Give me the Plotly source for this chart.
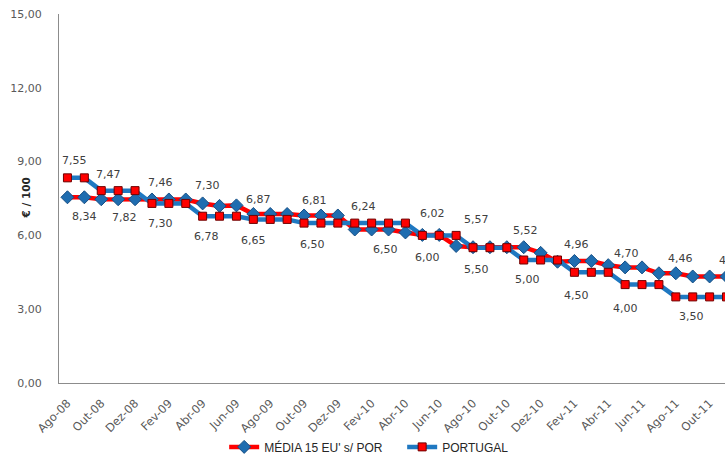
import plotly.graph_objects as go

# Monthly series, Ago-08 .. Nov-11
months = [
    "Ago-08", "Set-08", "Out-08", "Nov-08", "Dez-08",
    "Jan-09", "Fev-09", "Mar-09", "Abr-09", "Mai-09", "Jun-09",
    "Jul-09", "Ago-09", "Set-09", "Out-09", "Nov-09", "Dez-09",
    "Jan-10", "Fev-10", "Mar-10", "Abr-10", "Mai-10", "Jun-10",
    "Jul-10", "Ago-10", "Set-10", "Out-10", "Nov-10", "Dez-10",
    "Jan-11", "Fev-11", "Mar-11", "Abr-11", "Mai-11", "Jun-11",
    "Jul-11", "Ago-11", "Set-11", "Out-11", "Nov-11",
]

media_15 = [
    7.55, 7.55, 7.47, 7.47, 7.47,
    7.46, 7.46, 7.46, 7.30, 7.20, 7.22,
    6.87, 6.87, 6.87, 6.81, 6.81, 6.81,
    6.24, 6.24, 6.24, 6.12, 6.02, 6.02,
    5.57, 5.52, 5.52, 5.52, 5.52, 5.29,
    4.93, 4.96, 4.96, 4.79, 4.70, 4.70,
    4.46, 4.46, 4.33, 4.33, 4.33,
]

portugal = [
    8.34, 8.34, 7.82, 7.82, 7.82,
    7.30, 7.30, 7.30, 6.78, 6.78, 6.78,
    6.65, 6.65, 6.65, 6.50, 6.50, 6.50,
    6.50, 6.50, 6.50, 6.50, 6.00, 6.00,
    6.00, 5.50, 5.50, 5.50, 5.00, 5.00,
    5.00, 4.50, 4.50, 4.50, 4.00, 4.00,
    4.00, 3.50, 3.50, 3.50, 3.50,
]

tick_labels = months[::2]

# Value labels: (category position, value, vertical offset in px)
media_labels = [
    (0.4, 7.55, 37), (2.4, 7.47, 25), (5.5, 7.46, 17), (8.3, 7.30, 18),
    (11.3, 6.87, 15), (14.6, 6.81, 15), (17.5, 6.24, 23), (21.6, 6.02, 21),
    (24.2, 5.57, 26), (27.1, 5.52, 17), (30.1, 4.96, 16), (33.1, 4.70, 14),
    (36.3, 4.46, 15), (39.3, 4.33, 16),
]
portugal_labels = [
    (1.0, 8.34, -39), (3.4, 7.82, -27), (5.5, 7.30, -20), (8.2, 6.78, -20),
    (11.0, 6.65, -21), (14.5, 6.50, -21), (18.8, 6.50, -26), (21.3, 6.00, -22),
    (24.2, 5.50, -22), (27.2, 5.00, -19), (30.1, 4.50, -23), (33.0, 4.00, -24),
    (36.9, 3.50, -20),
]

RED = "#FF0000"
BLUE = "#1F78C1"
X_MAX = 38.91
PX_PER_CAT = 666 / (X_MAX + 0.5)

fig = go.Figure()
fig.add_trace(go.Scatter(
    x=months, y=media_15, name="MÉDIA 15 EU' s/ POR", mode="lines+markers",
    line=dict(color=RED, width=4.5),
    marker=dict(symbol="diamond", size=10, color="#1F6DB0",
                line=dict(color="#174F85", width=1)),
))
fig.add_trace(go.Scatter(
    x=months, y=portugal, name="PORTUGAL", mode="lines+markers",
    line=dict(color=BLUE, width=4.5),
    marker=dict(symbol="square", size=8, color=RED,
                line=dict(color="#6E0000", width=1)),
))


def fmt(v):
    return f"{v:.2f}".replace(".", ",")


annotations = []
for pos, val, off in media_labels + portugal_labels:
    xa = min(pos, X_MAX - 0.01)
    annotations.append(dict(
        x=xa, y=val, xref="x", yref="y", text=fmt(val), showarrow=False,
        xshift=(pos - xa) * PX_PER_CAT, yshift=off,
        font=dict(family="DejaVu Sans", size=11, color="#404040"),
    ))

annotations.append(dict(
    x=0, y=0.5, xref="paper", yref="paper", xshift=-34, text="<b>€ / 100</b>",
    textangle=-90, showarrow=False, xanchor="center", yanchor="middle",
    font=dict(family="DejaVu Sans", size=10.5, color="#262626"),
))

fig.update_layout(
    width=725, height=456,
    margin=dict(l=59, r=0, t=14, b=73),
    paper_bgcolor="white", plot_bgcolor="white",
    separators=",.",
    showlegend=True,
    legend=dict(
        orientation="h", xref="paper", x=0.248, xanchor="left",
        yref="container", y=0.02, yanchor="middle",
        font=dict(family="Liberation Sans", size=12, color="#262626"),
        itemwidth=30, entrywidth=133, bgcolor="rgba(0,0,0,0)",
    ),
    annotations=annotations,
)
fig.update_xaxes(
    type="category", range=[-0.5, X_MAX], automargin=False,
    tickmode="array", tickvals=tick_labels, ticktext=tick_labels,
    tickangle=-45, showgrid=False, showline=True, linecolor="#8C8C8C",
    linewidth=1, ticks="", zeroline=False, ticklabelstandoff=8,
    tickfont=dict(family="DejaVu Sans", size=11.5, color="#595959"),
)
fig.update_yaxes(
    range=[0, 15], tickvals=[0, 3, 6, 9, 12, 15], tickformat=".2f",
    automargin=False,
    showgrid=False, showline=True, linecolor="#8C8C8C", linewidth=1,
    ticks="", zeroline=False, ticklabelstandoff=14,
    tickfont=dict(family="DejaVu Sans", size=11, color="#595959"),
)

fig.write_html("out.html")
